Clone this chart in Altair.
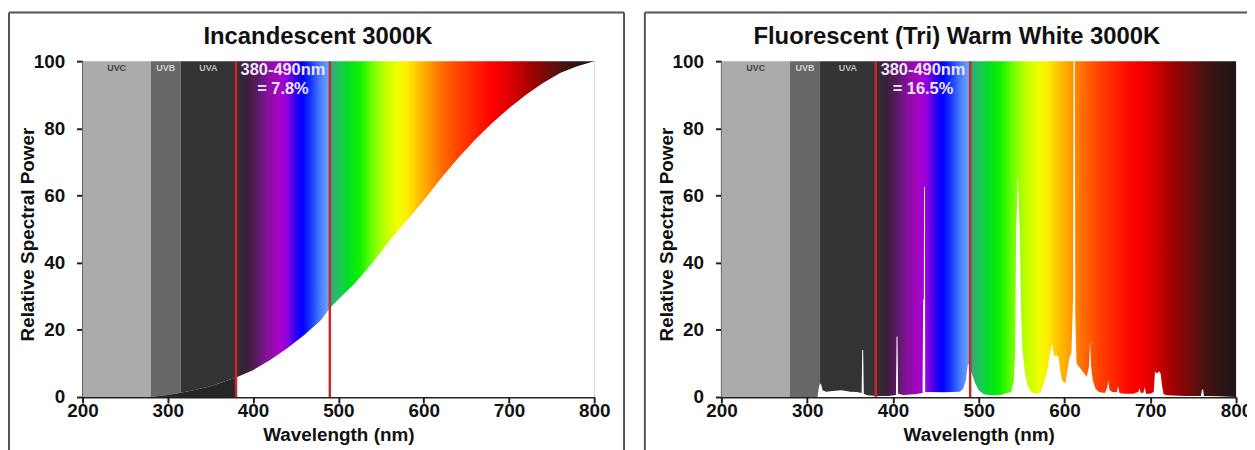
import altair as alt
import pandas as pd

FONT = "Liberation Sans"

# ---------------- data ----------------
TITLES = ["Incandescent 3000K", "Fluorescent (Tri) Warm White 3000K"]
PERCENTS = ["7.8", "16.5"]

X_TICKS = [200, 300, 400, 500, 600, 700, 800]
Y_TICKS = [0, 20, 40, 60, 80, 100]

BANDS = ["UVC", "UVB", "UVA"]
BAND_START = [200, 280, 315]
BAND_END = [280, 315, 380]

RED_LINES = [380, 490]

# visible spectrum colour stops (wavelength nm, colour)
SPEC_WL = [380, 392, 405, 418, 430, 440, 450, 458, 468, 478, 489.5, 490.5, 500, 512,
           525, 540, 555, 570, 580, 592, 605, 620, 640, 660, 680, 700, 720, 740, 760,
           780, 800]
SPEC_COL = ["#2e2e2e", "#3a2038", "#5a1a66", "#8a10a0", "#a800c8", "#9000e0", "#3000f0",
            "#0000ff", "#1838ff", "#4878ff", "#70aaf8", "#34a878", "#22c060", "#00e020",
            "#10f000", "#70ff00", "#c0ff00", "#f0ff00", "#ffee00", "#ffc400", "#ffa000",
            "#ff7000", "#ff4400", "#ff2200", "#ff0000", "#e00000", "#b00000", "#800808",
            "#501010", "#301414", "#1c1414"]

# incandescent relative spectral power
INC_WL = [280, 290, 300, 315, 330, 350, 380, 400, 420, 440, 460, 480, 490, 500, 520,
          540, 560, 580, 600, 620, 640, 660, 680, 700, 720, 740, 760, 780, 800]
INC_P = [0, 0.3, 0.6, 1.3, 2.0, 3.2, 5.8, 8, 11, 14.5, 18.5, 23, 26.5, 29, 34,
         40, 46.5, 52.5, 58.5, 65, 71, 76.5, 81.5, 86, 90, 93.5, 96.5, 98.5, 100]

# fluorescent (tri-phosphor) relative spectral power
FL_WL = [312, 314, 316, 318, 322, 330, 340, 350, 358, 363.5, 364.2, 365.3, 366, 370,
         380, 395, 403.5, 404.2, 405.3, 406, 412, 425, 434.5, 435.2, 436, 436.3, 437.3,
         437.6, 440, 460, 478, 482, 485, 487.5, 489, 492, 496, 500, 506, 515, 525, 533,
         538, 541, 542.5, 543.5, 545.5, 546.5, 548, 549.5, 551, 554, 557, 561, 566, 572,
         576, 580, 583, 585.5, 588, 590, 593, 595.5, 597, 601, 604, 606, 608, 610,
         610.5, 612, 612.5, 614, 620, 626, 628.5, 629.8, 631, 633, 636, 640, 647, 650,
         651, 652.5, 656, 661, 662.5, 664, 670, 680, 686, 687.5, 689, 692, 693.5, 695,
         700, 704, 705.5, 708, 710, 712, 714, 715.5, 720, 740, 759, 760.3, 761.5,
         762.5, 780, 800]
FL_P = [0, 3.5, 4, 2, 1.6, 1.8, 2.0, 1.6, 1.5, 1.2, 14, 14, 1, 0.5,
        0.3, 0.3, 0.6, 18, 18, 1, 0.6, 0.8, 1.2, 29, 29, 62.5, 62.5,
        1.5, 1.5, 1.4, 1.6, 2.5, 5, 10, 9, 7, 4, 2, 0.8, 0.5, 0.6, 1.2,
        1.5, 5, 14, 48, 66, 60, 48, 25, 14, 7, 3.5, 1.5, 1, 1.2,
        4, 8, 13, 16, 12, 12.5, 12, 7, 5, 4, 9, 12, 13, 30,
        100, 100, 25, 10, 8, 6, 9, 17, 9, 5, 2.5, 1.5, 1.2, 3,
        5, 2, 1.5, 1.5, 3.3, 1.2, 1, 1, 1.5, 2.5, 1.2, 1.3, 3, 1,
        1, 1.5, 7.5, 7, 7.7, 7, 3, 0.8, 0.5, 0.3, 0.3, 2.2, 2.2,
        0.3, 0.2, 0]

# ---------------- chart ----------------
XS = alt.Scale(domain=[200, 800], nice=False, zero=False)
YS = alt.Scale(domain=[0, 100], nice=False)

span = SPEC_WL[-1] - SPEC_WL[0]
GRAD = alt.Gradient(
    gradient="linear",
    stops=[alt.GradientStop(offset=(w - SPEC_WL[0]) / span, color=c)
           for w, c in zip(SPEC_WL, SPEC_COL)],
    x1=0, x2=1, y1=0, y2=0,
)

PLOT_H = 338
BAND_FILL = ["#ababab", "#676767", "#333333"]
BAND_TEXT = ["#444444", "#cfcfcf", "#bdbdbd"]


def panel(idx, wl, p, dark_uv, width, frame_left, frame_right):
    bands_df = pd.DataFrame({"band": BANDS, "start": BAND_START, "end": BAND_END})
    bands = alt.Chart(bands_df).mark_rect().transform_calculate(
        lo="0", hi="100"
    ).encode(
        x=alt.X("start:Q", scale=XS,
                axis=alt.Axis(values=X_TICKS, title="Wavelength (nm)", labelFlush=False,
                              labelBaseline="alphabetic", labelPadding=14, tickSize=6,
                              titleY=44, titleBaseline="alphabetic", labelOverlap=False)),
        x2="end:Q",
        y=alt.Y("lo:Q", scale=YS,
                axis=alt.Axis(values=Y_TICKS, title="Relative Spectral Power",
                              labelPadding=12, tickSize=6, titleX=-55, titleY=174,
                              titleBaseline="middle")),
        y2="hi:Q",
        color=alt.Color("band:N", scale=alt.Scale(domain=BANDS, range=BAND_FILL),
                        legend=None),
    )

    label_layers = []
    for b, s, e, c in zip(BANDS, BAND_START, BAND_END, BAND_TEXT):
        one = pd.DataFrame({"band": [b], "start": [s], "end": [e]})
        label_layers.append(
            alt.Chart(one).mark_text(
                font=FONT, fontWeight="bold", fontSize=9, baseline="middle", color=c
            ).transform_calculate(mid="(datum.start + datum.end) / 2").encode(
                x=alt.X("mid:Q", scale=XS), y=alt.value(7), text="band:N"
            )
        )

    spec_df = pd.DataFrame({"a": [SPEC_WL[0]], "b": [SPEC_WL[-1]]})
    spectrum = alt.Chart(spec_df).mark_rect(color=GRAD).transform_calculate(
        lo="0", hi="100"
    ).encode(x=alt.X("a:Q", scale=XS), x2="b:Q", y=alt.Y("lo:Q", scale=YS), y2="hi:Q")

    curve_df = pd.DataFrame({"wl": wl, "p": p})
    white = alt.Chart(curve_df).mark_area(color="white", interpolate="linear").encode(
        x=alt.X("wl:Q", scale=XS), y=alt.Y("p:Q", scale=YS)
    )

    layers = [bands, spectrum, white]
    if dark_uv:
        dark = alt.Chart(curve_df).mark_area(color="#262626", interpolate="linear"
        ).transform_filter(alt.datum.wl <= RED_LINES[0]).encode(
            x=alt.X("wl:Q", scale=XS), y=alt.Y("p:Q", scale=YS)
        )
        layers.append(dark)

    red = alt.Chart(pd.DataFrame({"wl": RED_LINES})).mark_rule(
        color="#c42a2a", strokeWidth=2.5
    ).transform_calculate(lo="0", hi="100").encode(
        x=alt.X("wl:Q", scale=XS), y=alt.Y("lo:Q", scale=YS), y2="hi:Q"
    )

    label_df = pd.DataFrame({
        "wl": [sum(RED_LINES) / 2],
        "t": [f"{RED_LINES[0]}-{RED_LINES[1]}nm\n= {PERCENTS[idx]}%"],
    })
    label = alt.Chart(label_df).mark_text(
        font=FONT, fontWeight="bold", fontSize=16.5, color="#efe6f6",
        baseline="top", lineBreak="\n", lineHeight=19
    ).encode(x=alt.X("wl:Q", scale=XS), y=alt.value(1), text="t:N")

    dummy = pd.DataFrame({"k": [0]})
    frame_color = "#555555"
    fl = alt.Chart(dummy).mark_rule(color=frame_color, strokeWidth=2).encode(
        x=alt.value(frame_left), y=alt.value(-49), y2=alt.value(395))
    ft = alt.Chart(dummy).mark_rule(color=frame_color, strokeWidth=2).encode(
        x=alt.value(frame_left), x2=alt.value(frame_right if frame_right else width + 40),
        y=alt.value(-49))
    frame_layers = [fl, ft]
    if frame_right:
        fr = alt.Chart(dummy).mark_rule(color=frame_color, strokeWidth=2).encode(
            x=alt.value(frame_right), y=alt.value(-49), y2=alt.value(395))
        frame_layers.append(fr)

    title = alt.Chart(pd.DataFrame({"t": [TITLES[idx]]})).mark_text(
        font=FONT, fontWeight="bold", fontSize=24, color="#111111", baseline="middle"
    ).encode(x=alt.value(237), y=alt.value(-24), text="t:N")

    layers += [red, label] + label_layers + frame_layers + [title]
    return alt.layer(*layers).properties(width=width, height=PLOT_H)


p1 = panel(0, INC_WL, INC_P, True, 515, -74, 545)
p2 = panel(1, FL_WL, FL_P, False, 518, -77, None)

chart = alt.hconcat(p1, p2, spacing=19).properties(
    autosize=alt.AutoSizeParams(type="none"),
    padding={"left": 75, "top": 51, "right": 1172, "bottom": 391},
).configure_view(stroke=None).configure_axis(
    labelFont=FONT, titleFont=FONT, labelFontWeight="bold", titleFontWeight="bold",
    labelFontSize=19, titleFontSize=19, labelColor="#111111", titleColor="#111111",
    domainColor="#222222", tickColor="#222222", domainWidth=2, tickWidth=2, grid=False,
)

chart.save("out.html", embed_options={"renderer": "svg", "actions": False})
